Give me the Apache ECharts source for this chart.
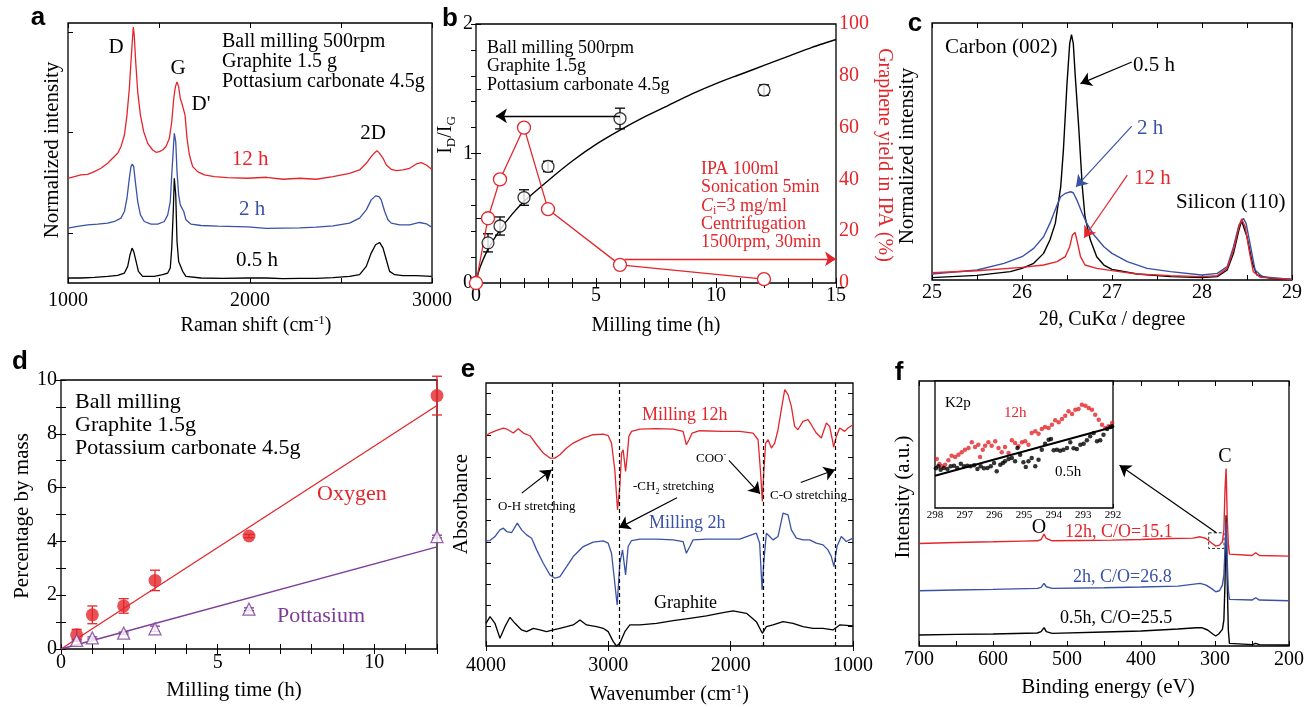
<!DOCTYPE html>
<html><head><meta charset="utf-8">
<script src="https://cdn.jsdelivr.net/npm/echarts@6/dist/echarts.min.js"></script>
<style>html,body{margin:0;padding:0;background:#fff}#c{width:1307px;height:707px}</style>
</head><body><div id="c"></div>
<script>
const F = "'Liberation Serif','Times New Roman',serif";
const RED = '#e3262b', BLUE = '#3a52a5', BLK = '#000', PUR = '#7d3c98';

// ---------- (a) Raman spectra: [Raman shift cm^-1, intensity a.u.] ----------
const ramanTicks = [150, 452, 755];
const raman05h = [[1000,15],[1071,15],[1145,17],[1218,20],[1273,23],[1310,30],[1328,50],[1341,85],[1352,105],[1361,95],[1374,65],[1387,35],[1410,20],[1474,20],[1520,25],[1548,30],[1562,45],[1570,105],[1579,225],[1584,315],[1592,265],[1599,125],[1608,65],[1617,60],[1630,35],[1648,20],[1731,15],[1850,14],[1987,15],[2090,15],[2181,13],[2273,14],[2364,14],[2456,16],[2547,20],[2602,25],[2639,50],[2666,90],[2690,115],[2712,122],[2731,105],[2749,70],[2767,35],[2795,25],[2840,22],[2914,22],[2998,20]];
const raman2h = [[1000,165],[1053,170],[1108,175],[1163,177],[1218,180],[1255,185],[1291,195],[1310,215],[1324,255],[1337,315],[1346,350],[1353,358],[1361,350],[1370,305],[1383,245],[1398,205],[1419,185],[1456,177],[1493,177],[1529,185],[1548,205],[1562,245],[1570,325],[1579,405],[1584,450],[1592,425],[1599,335],[1608,265],[1617,235],[1626,230],[1636,215],[1648,190],[1676,177],[1731,173],[1822,171],[1987,169],[2090,164],[2181,165],[2273,166],[2364,168],[2456,172],[2547,180],[2602,195],[2639,220],[2666,250],[2690,262],[2709,260],[2721,250],[2740,215],[2758,190],[2776,180],[2822,175],[2877,175],[2932,182],[2969,178],[2998,168]];
const raman12h = [[1000,315],[1035,320],[1071,325],[1108,327],[1145,335],[1181,345],[1218,360],[1245,375],[1273,390],[1291,410],[1310,445],[1324,505],[1337,585],[1346,665],[1353,725],[1359,770],[1364,745],[1372,665],[1383,575],[1398,505],[1416,455],[1438,420],[1465,400],[1484,393],[1502,395],[1520,400],[1538,410],[1557,435],[1570,485],[1581,555],[1590,590],[1599,605],[1608,590],[1617,555],[1626,540],[1634,543],[1643,505],[1654,435],[1667,385],[1685,350],[1712,335],[1749,325],[1804,320],[1877,317],[1987,315],[2090,318],[2181,312],[2273,315],[2364,312],[2456,320],[2547,330],[2602,340],[2639,360],[2666,380],[2685,392],[2698,398],[2712,390],[2731,375],[2749,355],[2776,342],[2804,338],[2840,340],[2877,345],[2914,358],[2941,362],[2969,355],[2998,342]];

// ---------- (b) ID/IG and graphene yield vs milling time ----------
const bTimes = [0.5, 1, 2, 3, 6, 12];
const bIdIg = [0.31, 0.44, 0.66, 0.90, 1.27, 1.49];
const bIdIgErr = [0.07, 0.07, 0.06, 0.04, 0.08, 0.04];
const bFitT = [0, 0.1, 0.25, 0.5, 1, 1.5, 2, 3, 4, 5, 6, 7, 8, 9, 10, 11, 12, 13, 14, 15];
const bFitV = [0, 0.08, 0.16, 0.26, 0.41, 0.53, 0.63, 0.79, 0.94, 1.07, 1.18, 1.28, 1.37, 1.46, 1.54, 1.61, 1.68, 1.75, 1.82, 1.88];
const bYieldT = [0, 0.5, 1, 2, 3, 6, 12];
const bYield = [0, 25, 40, 60, 28.5, 7, 1.5];

// ---------- (c) XRD: [2theta deg, intensity a.u.] ----------
const xrd05h = [[25.0,7],[25.5,14],[25.87,25],[26.0,35],[26.13,50],[26.24,80],[26.31,120],[26.37,170],[26.43,280],[26.46,390],[26.5,590],[26.53,710],[26.55,737],[26.57,710],[26.59,620],[26.63,460],[26.67,280],[26.7,190],[26.76,120],[26.83,70],[26.91,45],[27.0,32],[27.28,18],[27.65,10],[28.0,7],[28.17,10],[28.28,30],[28.35,80],[28.41,150],[28.44,178],[28.46,175],[28.5,130],[28.56,50],[28.61,15],[28.76,5],[29.0,2]];
const xrd2h = [[25.0,18],[25.5,30],[25.8,50],[26.0,70],[26.13,95],[26.24,130],[26.31,170],[26.39,225],[26.43,250],[26.48,260],[26.54,265],[26.57,262],[26.61,240],[26.67,200],[26.72,170],[26.8,135],[26.91,100],[27.0,80],[27.17,55],[27.39,35],[27.65,25],[28.0,15],[28.17,20],[28.28,40],[28.35,100],[28.41,165],[28.46,185],[28.49,170],[28.54,100],[28.59,30],[28.67,10],[29.0,2]];
const xrd12h = [[25.0,22],[25.5,28],[26.0,38],[26.24,45],[26.39,55],[26.48,70],[26.53,100],[26.56,135],[26.59,143],[26.61,120],[26.65,70],[26.7,45],[26.83,35],[27.0,28],[27.28,18],[27.65,13],[28.0,10],[28.17,13],[28.28,35],[28.35,90],[28.41,160],[28.44,183],[28.48,160],[28.53,80],[28.57,25],[28.65,8],[29.0,2]];

// ---------- (d) element mass percentage ----------
const dTimes = [0.5, 1, 2, 3, 6, 12];
const dOxygen = [0.53, 1.27, 1.6, 2.55, 4.2, 9.42];
const dOxygenErr = [0.2, 0.33, 0.27, 0.38, 0.06, 0.72];
const dPotassium = [0.32, 0.41, 0.59, 0.75, 1.48, 4.18];
const dPotassiumErr = [0.04, 0.04, 0.04, 0.1, 0.05, 0.05];
const dOxygenFit = [[0, 0], [12, 9.05]];
const dPotassiumFit = [[0, 0], [12, 3.8]];

// ---------- (e) FTIR: [wavenumber cm^-1, absorbance a.u.] ----------
const ftirTicks = [58,122,185,249,312,376,439,503,566,630,693,757];
const ftirBands = [3460, 2910, 1732, 1146];
const ftir12h = [[4000,630],[3967,638],[3913,646],[3858,653],[3831,650],[3777,638],[3736,651],[3695,638],[3641,630],[3586,603],[3532,578],[3477,563],[3437,563],[3396,573],[3341,593],[3287,608],[3205,623],[3124,633],[3042,635],[3001,630],[2974,608],[2947,528],[2925,408],[2906,478],[2892,578],[2879,588],[2859,523],[2846,568],[2832,628],[2810,643],[2742,650],[2606,651],[2470,650],[2389,643],[2362,603],[2340,618],[2315,638],[2253,645],[2062,643],[1926,643],[1817,638],[1776,618],[1757,528],[1741,433],[1730,518],[1714,608],[1694,618],[1667,593],[1640,608],[1613,648],[1586,708],[1558,768],[1531,753],[1504,718],[1477,658],[1450,648],[1409,673],[1368,678],[1341,663],[1300,638],[1259,623],[1218,668],[1191,658],[1169,618],[1158,596],[1136,628],[1109,653],[1068,643],[1041,653],[1000,663]];
const ftir2h = [[4000,315],[3967,316],[3927,328],[3886,348],[3858,353],[3831,343],[3790,340],[3744,368],[3709,348],[3668,333],[3627,323],[3586,288],[3532,248],[3477,213],[3437,203],[3396,208],[3341,238],[3287,268],[3205,298],[3124,311],[3042,315],[3001,308],[2974,278],[2947,188],[2928,123],[2906,248],[2884,288],[2859,213],[2838,298],[2810,316],[2742,320],[2606,320],[2470,318],[2389,313],[2362,278],[2334,298],[2307,318],[2198,320],[1926,320],[1790,338],[1763,308],[1743,168],[1730,248],[1708,338],[1681,328],[1654,318],[1613,328],[1572,398],[1531,393],[1504,348],[1463,323],[1409,318],[1354,318],[1300,308],[1245,303],[1205,288],[1177,268],[1156,238],[1131,298],[1096,328],[1055,313],[1000,323]];
const ftirGraphite = [[4000,68],[3967,88],[3927,68],[3886,23],[3845,58],[3804,86],[3763,68],[3709,48],[3668,43],[3613,53],[3559,48],[3505,43],[3450,48],[3396,53],[3341,58],[3287,63],[3232,78],[3178,63],[3096,58],[3042,53],[3001,43],[2960,13],[2933,0],[2906,8],[2865,43],[2824,63],[2742,63],[2606,68],[2470,76],[2334,83],[2198,90],[2062,100],[1980,105],[1871,98],[1790,73],[1741,38],[1708,58],[1654,63],[1572,73],[1490,68],[1409,58],[1327,53],[1245,53],[1164,48],[1109,63],[1000,60]];

// ---------- (f) XPS survey: [binding energy eV, intensity a.u.] ----------
const xps12h = [[700,308],[650,311],[600,313],[560,315],[540,316],[535,320],[531,336],[528,323],[520,316],[480,317],[440,318],[400,320],[360,323],[330,324],[320,328],[312,323],[305,310],[299,300],[294,303],[290,313],[288,348],[286.5,468],[285,533],[283.5,388],[282,308],[280.5,276],[278,272],[250,272],[245,280],[240,272],[200,270]];
const xps2h = [[700,166],[650,168],[600,170],[540,173],[535,176],[531,188],[528,178],[520,173],[450,175],[400,177],[350,180],[320,188],[312,183],[305,173],[299,163],[294,166],[290,183],[288,213],[286.5,288],[285,373],[283.5,258],[282,168],[280.5,140],[278,138],[250,138],[245,145],[240,138],[200,136]];
const xps05h = [[700,33],[650,35],[600,36],[540,39],[535,43],[531,55],[528,43],[520,38],[450,42],[400,45],[350,51],[325,55],[318,55],[310,48],[303,36],[299,30],[295,36],[290,50],[288,78],[286.5,188],[285,393],[283.5,198],[282,48],[280.5,8],[278,4],[250,4],[245,8],[240,4],[200,3]];
// inset K2p region
const k2p12h = [[297.94,147],[297.85,132],[297.77,125],[297.66,130],[297.55,143],[297.44,157],[297.32,153],[297.21,160],[297.10,167],[296.99,175],[296.87,180],[296.76,197],[296.65,183],[296.54,190],[296.48,153],[296.39,175],[296.31,187],[296.20,197],[296.09,187],[295.97,200],[295.86,180],[295.75,167],[295.64,183],[295.52,165],[295.41,203],[295.30,195],[295.19,185],[295.07,197],[294.96,200],[294.85,190],[294.74,225],[294.62,230],[294.51,223],[294.40,237],[294.29,243],[294.17,240],[294.06,250],[293.95,263],[293.83,257],[293.72,267],[293.61,277],[293.50,290],[293.38,282],[293.27,295],[293.16,297],[293.05,310],[292.93,307],[292.82,300],[292.71,295],[292.60,280],[292.48,265],[292.37,250],[292.26,240],[292.15,245],[292.03,255]];
const k2p05h = [[297.97,119],[297.89,125],[297.81,115],[297.70,120],[297.58,117],[297.47,125],[297.36,127],[297.25,120],[297.13,133],[297.02,125],[296.91,127],[296.80,125],[296.68,128],[296.57,117],[296.46,125],[296.35,119],[296.23,120],[296.12,125],[296.01,135],[295.92,110],[295.80,130],[295.71,135],[295.64,140],[295.52,147],[295.41,150],[295.30,140],[295.22,180],[295.13,160],[295.02,137],[294.94,123],[294.85,140],[294.74,150],[294.62,125],[294.51,145],[294.40,175],[294.29,193],[294.17,205],[294.09,207],[294.00,173],[293.89,175],[293.78,172],[293.67,175],[293.55,180],[293.44,197],[293.33,179],[293.22,177],[293.10,190],[292.99,193],[292.88,203],[292.77,215],[292.65,225],[292.54,200],[292.43,203],[292.32,220],[292.20,237],[292.09,243],[292.03,245]];
const k2pFit = [[298, 97], [292, 243]];

// ---------------- helpers ----------------
const tick = (o) => Object.assign({show:true, inside:true, length:5, lineStyle:{color:'#000', width:1}}, o||{});
const lab = (o) => Object.assign({show:true, color:'#000', fontFamily:F, fontSize:20, formatter:(v) => String(v)}, o||{});
function ax(g, min, max, o) {
  return Object.assign({gridIndex:g, type:'value', min, max, axisLine:{show:false}, splitLine:{show:false},
    axisTick:tick(), axisLabel:{show:false}}, o);
}
const every = (k) => (v) => (Math.abs(v / k - Math.round(v / k)) < 1e-6 ? String(v) : '');
function line(xi, yi, data, color, w, extra) {
  return Object.assign({type:'line', xAxisIndex:xi, yAxisIndex:yi, data, symbol:'none', smooth:false,
    lineStyle:{color, width:w||1.3}, itemStyle:{color}, silent:true, z:2}, extra||{});
}
function errBars(xi, yi, xs, ys, es, color) {
  return {type:'custom', xAxisIndex:xi, yAxisIndex:yi, silent:true, z:3,
    data: xs.map((x, i) => [x, ys[i], es[i]]),
    renderItem: (p, api) => {
      const x = api.value(0), y = api.value(1), e = api.value(2);
      const t = api.coord([x, y + e]), b = api.coord([x, y - e]), w = 5;
      const st = {stroke: color, lineWidth: 1.3};
      return {type:'group', children:[
        {type:'line', shape:{x1:t[0], y1:t[1], x2:b[0], y2:b[1]}, style:st},
        {type:'line', shape:{x1:t[0]-w, y1:t[1], x2:t[0]+w, y2:t[1]}, style:st},
        {type:'line', shape:{x1:b[0]-w, y1:b[1], x2:b[0]+w, y2:b[1]}, style:st}]};
    }};
}
function arrows(list, color, w) {
  return {silent:true, symbol:['none','arrow'], symbolSize:11, label:{show:false},
    lineStyle:{type:'solid', color, width:w||1.3}, itemStyle:{color}, animation:false,
    data: list.map(a => [{coord:a[0], symbol:'none'}, {coord:a[1], symbol:'arrow', symbolSize:11}])};
}
const pair = (xs, ys) => xs.map((x, i) => [x, ys[i]]);

const grids = [
  {left:68, top:23, width:364, height:260},
  {left:476, top:24, width:360, height:259},
  {left:932, top:23, width:360, height:257},
  {left:61, top:380, width:376, height:269},
  {left:486, top:383, width:367, height:263},
  {left:919, top:381, width:370, height:265},
  {left:935, top:381, width:178, height:127, backgroundColor:'#fff', z:5}
].map(g => Object.assign({show:true, borderColor:'#000', borderWidth:1.3, backgroundColor:'transparent'}, g));

const xAxis = [
  ax(0, 1000, 3000, {interval:500, axisLabel:lab({margin:8, formatter:every(1000)})}),
  ax(0, 1000, 3000, {interval:500, position:'top'}),
  ax(1, 0, 15, {interval:1, axisLabel:lab({margin:3, formatter:every(5)})}),
  ax(1, 0, 15, {interval:1, position:'top'}),
  ax(2, 25, 29, {interval:0.5, axisLabel:lab({margin:3, formatter:every(1)})}),
  ax(2, 25, 29, {interval:0.5, position:'top'}),
  ax(3, 0, 12, {interval:1, axisLabel:lab({margin:4, formatter:every(5)})}),
  ax(3, 0, 12, {interval:1, position:'top'}),
  ax(4, 1000, 4000, {interval:1000, inverse:true, axisLabel:lab({margin:10})}),
  ax(4, 1000, 4000, {interval:1000, inverse:true, position:'top'}),
  ax(5, 200, 700, {interval:50, inverse:true, axisLabel:lab({margin:4, formatter:every(100)})}),
  ax(5, 200, 700, {interval:50, inverse:true, position:'top'}),
  ax(6, 292, 298, {interval:1, inverse:true, axisTick:tick({length:4}), axisLabel:lab({margin:2, fontSize:11})}),
  ax(6, 292, 298, {interval:1, inverse:true, position:'top', axisTick:tick({length:4})})
];
const yAxis = [
  ax(0, 0, 782, {axisTick:tick({customValues:ramanTicks})}),
  ax(1, 0, 2, {interval:0.5, axisLabel:lab({margin:3, formatter:every(1)})}),
  ax(1, 0, 100, {interval:10, position:'right', axisLabel:lab({margin:3, color:RED, formatter:every(20)})}),
  ax(2, 0, 772, {axisTick:{show:false}}),
  ax(3, 0, 10, {interval:1, axisLabel:lab({margin:4, formatter:every(2)})}),
  ax(3, 0, 10, {interval:1, position:'right'}),
  ax(4, 0, 788, {axisTick:tick({customValues:ftirTicks})}),
  ax(4, 0, 788, {position:'right', axisTick:tick({customValues:ftirTicks})}),
  ax(5, 0, 796, {axisTick:{show:false}}),
  ax(6, 0, 381, {axisTick:{show:false}})
];

const openSym = (c, w) => ({color:'#fff', borderColor:c, borderWidth:w||1.3});

const series = [
  // (a)
  line(0, 0, raman05h, BLK), line(0, 0, raman2h, BLUE), line(0, 0, raman12h, RED),
  // (b)
  line(2, 1, pair(bFitT, bFitV), BLK, 1.4, {smooth:0.2,
    markLine: arrows([[[6.0, 1.29], [0.83, 1.29]]], BLK)}),
  errBars(2, 1, bTimes, bIdIg, bIdIgErr, BLK),
  {type:'scatter', xAxisIndex:2, yAxisIndex:1, data:pair(bTimes, bIdIg), symbol:'circle', symbolSize:12,
    itemStyle:openSym(BLK), z:4, silent:true},
  line(2, 2, pair(bYieldT, bYield), RED, 1.3, {symbol:'circle', symbolSize:13, showAllSymbol:true,
    itemStyle:openSym(RED), z:4, markLine: arrows([[[6.2, 9.3], [15, 9.3]]], RED)}),
  // (c)
  line(4, 3, xrd05h, BLK, 1.4, {markLine: arrows([[[27.22, 655], [26.65, 590]]], BLK, 1.2)}),
  line(4, 3, xrd2h, BLUE, 1.4, {markLine: arrows([[[27.22, 462], [26.6, 280]]], BLUE, 1.2)}),
  line(4, 3, xrd12h, RED, 1.4, {markLine: arrows([[[27.17, 315], [26.69, 127]]], RED, 1.2)}),
  // (d)
  line(6, 4, dOxygenFit, RED, 1.3),
  line(6, 4, dPotassiumFit, PUR, 1.3),
  errBars(6, 4, dTimes, dOxygen, dOxygenErr, RED),
  errBars(6, 4, dTimes, dPotassium, dPotassiumErr, PUR),
  {type:'scatter', xAxisIndex:6, yAxisIndex:4, data:pair(dTimes, dOxygen), symbol:'circle', symbolSize:13,
    itemStyle:{color:RED}, z:4, silent:true},
  {type:'scatter', xAxisIndex:6, yAxisIndex:4, data:pair(dTimes, dPotassium), symbol:'triangle', symbolSize:12,
    itemStyle:openSym(PUR, 1.3), z:4, silent:true},
  // (e)
  line(8, 6, ftirGraphite, BLK, 1.3, {markLine: arrows([
    [[3708, 458], [3463, 528]], [[2439, 444], [2913, 354]], [[2014, 556], [1760, 456]], [[1427, 490], [1147, 528]]], BLK, 1.2)}),
  line(8, 6, ftir2h, BLUE, 1.3, {markLine:{silent:true, symbol:'none', label:{show:false}, animation:false,
    lineStyle:{type:[4, 3], color:'#000', width:1.2}, data: ftirBands.map(v => ({xAxis:v}))}}),
  line(8, 6, ftir12h, RED, 1.3),
  // (f)
  line(10, 8, xps05h, BLK, 1.4),
  line(10, 8, xps2h, BLUE, 1.4),
  line(10, 8, xps12h, RED, 1.4, {
    markArea:{silent:true, label:{show:false}, itemStyle:{color:'rgba(0,0,0,0)', borderColor:'#333', borderType:[3, 2], borderWidth:1},
      data:[[{coord:[308.5, 340]}, {coord:[287.8, 293]}]]},
    markLine: arrows([[[298, 340], [429, 543]]], BLK, 1.2)}),
  // inset
  {type:'scatter', xAxisIndex:12, yAxisIndex:9, data:k2p12h, symbol:'circle', symbolSize:4.5, itemStyle:{color:RED}, silent:true, z:6},
  {type:'scatter', xAxisIndex:12, yAxisIndex:9, data:k2p05h, symbol:'circle', symbolSize:4.5, itemStyle:{color:BLK}, silent:true, z:6},
  line(12, 9, k2pFit, BLK, 2, {z:7})
];

// ---------------- text ----------------
const rich = (size, color) => ({
  n:{fontSize:size, fontFamily:F, fill:color, lineHeight:size + 4},
  it:{fontSize:size, fontFamily:F, fontStyle:'italic', fill:color, lineHeight:size + 4},
  sup:{fontSize:Math.round(size * 0.65), fontFamily:F, fill:color, verticalAlign:'top', lineHeight:size + 4},
  sub:{fontSize:Math.round(size * 0.65), fontFamily:F, fill:color, verticalAlign:'bottom', lineHeight:size + 4}
});
function T(text, x, y, o) {
  o = o || {};
  const size = o.size || 20, color = o.color || '#000';
  const st = {text, fill:color, font:(o.italic ? 'italic ' : '') + (o.bold ? 'bold ' : '') + size + 'px ' + (o.family || F),
    textAlign:o.align || 'left', align:o.align || 'left', textVerticalAlign:'middle', verticalAlign:'middle'};
  if (o.rich) st.rich = rich(size, color);
  return {type:'text', x, y, rotation:o.rot || 0, z:100, silent:true, style:st};
}
const SANS = "'Liberation Sans', Arial, sans-serif";
const RV = Math.PI / 2;
const graphic = [
  // panel letters
  T('a', 38, 18, {bold:true, size:26, family:SANS, align:'center'}),
  T('b', 450, 19, {bold:true, size:26, family:SANS, align:'center'}),
  T('c', 915, 24, {bold:true, size:26, family:SANS, align:'center'}),
  T('d', 20, 362, {bold:true, size:26, family:SANS, align:'center'}),
  T('e', 468, 370, {bold:true, size:26, family:SANS, align:'center'}),
  T('f', 899, 373, {bold:true, size:26, family:SANS, align:'center'}),
  // (a)
  T('Normalized intensity', 52, 150, {rot:RV, align:'center', size:21}),
  T('{n|Raman shift (cm}{sup|-1}{n|)}', 256, 326, {align:'center', rich:true, size:20}),
  T('D', 116, 47, {align:'center', size:21}),
  T('G', 178, 68, {align:'center', size:21}),
  T("D'", 201, 104, {align:'center', size:21}),
  T('2D', 373, 133, {align:'center', size:21}),
  T('12 h', 250, 159, {align:'center', color:RED, size:21}),
  T('2 h', 252, 209, {align:'center', color:BLUE, size:21}),
  T('0.5 h', 257, 260, {align:'center', size:21}),
  T('Ball milling 500rpm', 222, 42, {size:20}),
  T('Graphite 1.5 g', 222, 62, {size:20}),
  T('Pottasium carbonate 4.5g', 222, 82, {size:20}),
  // (b)
  T('{n|I}{sub|D}{n|/I}{sub|G}', 446, 135, {rot:RV, align:'center', rich:true, size:20}),
  T('Graphene yield in IPA (%)', 884, 155, {rot:-RV, align:'center', color:RED, size:20}),
  T('Milling time (h)', 656, 326, {align:'center', size:20}),
  T('Ball milling 500rpm', 487, 48, {size:18}),
  T('Graphite 1.5g', 487, 66.5, {size:18}),
  T('Pottasium carbonate 4.5g', 487, 85, {size:18}),
  T('IPA 100ml', 701, 169, {size:18, color:RED}),
  T('Sonication 5min', 701, 187.5, {size:18, color:RED}),
  T('{it|C}{sub|i}{n|=3 mg/ml}', 701, 206, {size:18, color:RED, rich:true}),
  T('Centrifugation', 701, 224, {size:18, color:RED}),
  T('1500rpm, 30min', 701, 242, {size:18, color:RED}),
  // (c)
  T('Normalized intensity', 907, 156, {rot:RV, align:'center', size:21}),
  T('2\u03b8, CuK\u03b1 / degree', 1112, 320, {align:'center', size:20}),
  T('Carbon (002)', 945, 47, {size:21}),
  T('0.5 h', 1133, 65, {size:21}),
  T('2 h', 1137, 128, {size:21, color:BLUE}),
  T('12 h', 1134, 178, {size:21, color:RED}),
  T('Silicon (110)', 1176, 202, {size:21}),
  // (d)
  T('Percentage by mass', 22, 516, {rot:RV, align:'center', size:21}),
  T('Milling time (h)', 234, 690, {align:'center', size:21}),
  T('Ball milling', 75, 402, {size:22}),
  T('Graphite 1.5g', 75, 425, {size:22}),
  T('Potassium carbonate 4.5g', 75, 448, {size:22}),
  T('Oxygen', 317, 494, {size:22, color:RED}),
  T('Pottasium', 277, 616, {size:22, color:PUR}),
  // (e)
  T('Absorbance', 461, 504, {rot:RV, align:'center', size:21}),
  T('{n|Wavenumber (cm}{sup|-1}{n|)}', 669, 695, {align:'center', rich:true, size:20}),
  T('Milling 12h', 642, 415, {size:18, color:RED}),
  T('Milling 2h', 649, 523, {size:18, color:BLUE}),
  T('Graphite', 654, 603, {size:18}),
  T('O-H stretching', 498, 507, {size:13}),
  T('{n|-CH}{sub|2}{n| stretching}', 633, 487, {size:13, rich:true}),
  T('{n|COO}{sup|-}', 696, 459, {size:13, rich:true}),
  T('C-O stretching', 770, 496, {size:13}),
  // (f)
  T('Intensity (a.u.)', 903, 497, {rot:RV, align:'center', size:21}),
  T('Binding energy (eV)', 1108, 687, {align:'center', size:21}),
  T('K2p', 945, 403, {size:15}),
  T('12h', 1004, 413, {size:15, color:RED}),
  T('0.5h', 1055, 472, {size:15}),
  T('C', 1225, 457, {size:20, align:'center'}),
  T('O', 1039, 528, {size:20, align:'center'}),
  T('12h, C/O=15.1', 1065, 532, {size:18, color:RED}),
  T('2h, C/O=26.8', 1073, 577, {size:18, color:BLUE}),
  T('0.5h, C/O=25.5', 1060, 618, {size:18})
];

const chart = echarts.init(document.getElementById('c'), null, {renderer:'canvas'});
chart.setOption({animation:false, backgroundColor:'#fff', grid:grids, xAxis, yAxis, series, graphic});
</script></body></html>
